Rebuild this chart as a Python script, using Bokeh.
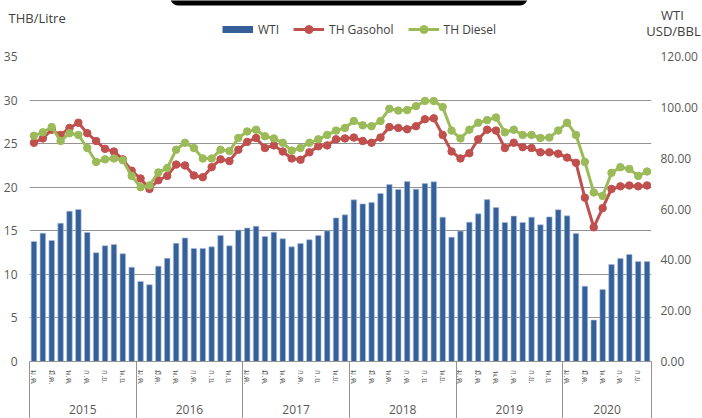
import numpy as np
from bokeh.plotting import figure
from bokeh.layouts import column
from bokeh.models import (Range1d, LinearAxis, FixedTicker, Legend, LegendItem,
                          Label, NumeralTickFormatter, BoxAnnotation)
from bokeh.embed import file_html
from bokeh.resources import INLINE

# ---------------- data ----------------
years = ["2015", "2016", "2017", "2018", "2019", "2020"]
month_names = ["ม.ค.", "ก.พ.", "มี.ค.", "เม.ย.", "พ.ค.", "มิ.ย.",
               "ก.ค.", "ส.ค.", "ก.ย.", "ต.ค.", "พ.ย.", "ธ.ค."]

wti = [47.2, 50.5, 47.6, 54.4, 59.1, 59.8, 50.8, 42.8, 45.5, 46.0, 42.4, 37.1,
       31.5, 30.2, 37.5, 40.6, 46.5, 48.6, 44.5, 44.5, 45.1, 49.6, 45.5, 51.7,
       52.5, 53.2, 49.2, 50.9, 48.3, 45.1, 46.4, 47.9, 49.6, 51.4, 56.5, 57.7,
       63.6, 62.0, 62.6, 66.1, 69.6, 67.7, 70.8, 67.8, 70.0, 70.7, 56.8, 48.9,
       51.3, 54.8, 58.1, 63.7, 60.6, 54.7, 57.2, 54.7, 56.8, 53.8, 56.9, 59.7,
       57.3, 50.4, 29.6, 16.3, 28.3, 38.2, 40.5, 42.1, 39.3, 39.3]

gasohol = [25.1, 25.6, 26.6, 26.0, 26.8, 27.4, 26.2, 25.3, 24.4, 24.1, 23.2, 21.9,
           21.0, 19.8, 20.8, 21.3, 22.6, 22.5, 21.35, 21.15, 22.3, 23.2, 23.0, 24.3,
           25.2, 25.65, 24.5, 24.8, 24.1, 23.3, 23.15, 24.0, 24.7, 24.8, 25.5, 25.6,
           25.7, 25.3, 25.1, 25.7, 26.9, 26.8, 26.65, 27.0, 27.8, 27.9, 26.0, 24.1,
           23.3, 23.9, 25.5, 26.6, 26.5, 24.5, 25.1, 24.6, 24.5, 24.0, 24.0, 23.85,
           23.4, 22.8, 18.8, 15.4, 17.6, 19.8, 20.1, 20.2, 20.1, 20.2]

diesel = [25.9, 26.3, 26.9, 25.3, 26.2, 26.0, 24.5, 22.9, 23.2, 23.3, 23.1, 21.3,
          20.0, 20.2, 21.7, 22.2, 24.3, 25.1, 24.5, 23.3, 23.3, 24.3, 24.15, 25.65,
          26.4, 26.6, 25.85, 25.6, 25.1, 24.2, 24.5, 25.1, 25.5, 26.0, 26.5, 26.8,
          27.6, 27.1, 27.0, 27.6, 29.0, 28.8, 28.85, 29.3, 29.9, 29.9, 29.2, 26.5,
          25.6, 26.6, 27.4, 27.7, 28.0, 26.3, 26.6, 26.0, 26.0, 25.65, 25.7, 26.5,
          27.4, 26.0, 22.9, 19.4, 19.0, 21.65, 22.3, 22.1, 21.3, 21.8]

left_ticks = [0, 5, 10, 15, 20, 25, 30, 35]
right_ticks = [0, 20, 40, 60, 80, 100, 120]

# ---------------- derived ----------------
n = len(wti)
x = np.arange(n)
month_labels = [month_names[i % 12] for i in range(n)]
year_idx = [i // 12 for i in range(n)]
bounds = [-0.5] + [i - 0.5 for i in range(1, n) if year_idx[i] != year_idx[i - 1]] + [n - 0.5]
centers = [(bounds[k] + bounds[k + 1]) / 2 for k in range(len(bounds) - 1)]

FONT = "Open Sans"
TXT = "#595959"
DARK = "#404040"
GRID = "#939393"
BAR = "#36609a"
RED = "#c0504d"
GREEN = "#9bbb59"

W = 702
HEAD_H = 46
MAIN_H = 372
SEP = 57  # year separator length below the x axis line

# ---------------- header (units, legend) ----------------
head = figure(width=W, height=HEAD_H, output_backend="svg", toolbar_location=None,
              x_range=Range1d(-0.5, n - 0.5), y_range=Range1d(100, 200),
              x_axis_type=None, y_axis_type=None,
              min_border_left=0, min_border_right=0, min_border_top=0, min_border_bottom=0)
head.frame_align = False
head.outline_line_color = None
head.xgrid.visible = False
head.ygrid.visible = False

head.add_layout(BoxAnnotation(left=170, right=527, top=HEAD_H + 10, bottom=HEAD_H - 5,
                              left_units="screen", right_units="screen",
                              top_units="screen", bottom_units="screen",
                              border_radius=8,
                              fill_color="black", fill_alpha=1, line_color=None))

# legend proxies (hidden; the series are drawn in the main chart)
p_wti = head.line(x, wti, line_color=BAR, line_width=7, visible=False)
p_g1 = head.line(x, gasohol, line_color=RED, line_width=3, visible=False)
p_g2 = head.scatter(x, gasohol, size=7.5, fill_color=RED, line_color=RED, visible=False)
p_d1 = head.line(x, diesel, line_color=GREEN, line_width=3, visible=False)
p_d2 = head.scatter(x, diesel, size=7.5, fill_color=GREEN, line_color=GREEN, visible=False)

legend = Legend(items=[LegendItem(label="WTI", renderers=[p_wti]),
                       LegendItem(label="TH Gasohol", renderers=[p_g1, p_g2]),
                       LegendItem(label="TH Diesel", renderers=[p_d1, p_d2])],
                orientation="horizontal", location=(222, 7),
                glyph_width=31, glyph_height=20, label_standoff=5, spacing=14,
                padding=0, margin=0, border_line_color=None, background_fill_alpha=0,
                inactive_fill_alpha=0,
                label_text_font=FONT, label_text_font_size="12px",
                label_text_color=DARK)
head.add_layout(legend)

head.add_layout(Label(x=8, y=HEAD_H - 17, x_units="screen", y_units="screen", text="THB/Litre",
                      text_font=FONT, text_font_size="13px", text_color=DARK,
                      text_baseline="middle", text_align="left"))
head.add_layout(Label(x=672, y=HEAD_H - 14, x_units="screen", y_units="screen", text="WTI",
                      text_font=FONT, text_font_size="13px", text_color=DARK,
                      text_baseline="middle", text_align="center"))
head.add_layout(Label(x=673, y=HEAD_H - 30, x_units="screen", y_units="screen", text="USD/BBL",
                      text_font=FONT, text_font_size="13px", text_color=DARK,
                      text_baseline="middle", text_align="center"))

# ---------------- main chart ----------------
p = figure(width=W, height=MAIN_H, output_backend="svg", toolbar_location=None,
           x_range=Range1d(-0.5, n - 0.5), y_range=Range1d(0, 35),
           x_axis_type=None,
           min_border_left=28, min_border_right=51, min_border_top=10, min_border_bottom=SEP)
p.frame_align = False
p.outline_line_color = None
p.background_fill_color = "white"
p.border_fill_color = "white"
p.extra_y_ranges = {"wti": Range1d(0, 120)}

lt = FixedTicker(ticks=left_ticks)
ya = p.yaxis[0]
ya.ticker = lt
ya.axis_line_color = None
ya.major_tick_line_color = None
ya.minor_tick_line_color = None
ya.major_tick_out = 0
ya.minor_tick_out = 0
ya.major_label_text_font = FONT
ya.major_label_text_font_size = "12px"
ya.major_label_text_color = TXT
ya.major_label_standoff = 12
p.ygrid[0].ticker = lt
p.ygrid[0].grid_line_color = GRID
p.ygrid[0].grid_line_width = 1.2

ra = LinearAxis(y_range_name="wti", ticker=FixedTicker(ticks=right_ticks),
                formatter=NumeralTickFormatter(format="0.00"))
ra.axis_line_color = None
ra.major_tick_line_color = None
ra.minor_tick_line_color = None
ra.major_tick_out = 0
ra.minor_tick_out = 0
ra.major_label_text_font = FONT
ra.major_label_text_font_size = "12px"
ra.major_label_text_color = TXT
ra.major_label_standoff = 9
p.add_layout(ra, "right")

month_ticks = list(range(0, n, 2))
xa = LinearAxis(ticker=FixedTicker(ticks=month_ticks, minor_ticks=bounds),
                major_label_overrides={i: month_labels[i] for i in month_ticks})
xa.major_label_orientation = "vertical"
xa.axis_line_color = GRID
xa.axis_line_width = 1.2
xa.major_tick_line_color = None
xa.major_tick_out = 0
xa.major_tick_in = 0
xa.minor_tick_line_color = GRID
xa.minor_tick_line_width = 1
xa.minor_tick_in = 0
xa.minor_tick_out = SEP
xa.major_label_text_font = "Noto Sans"
xa.major_label_text_font_size = "7.5px"
xa.major_label_text_color = TXT
xa.major_label_standoff = 9 - SEP
p.add_layout(xa, "below")

yr = LinearAxis(ticker=FixedTicker(ticks=centers),
                major_label_overrides={c: years[k] for k, c in enumerate(centers)})
yr.axis_line_color = None
yr.major_tick_line_color = None
yr.minor_tick_line_color = None
yr.major_tick_out = 0
yr.major_tick_in = 0
yr.minor_tick_out = 0
yr.minor_tick_in = 0
yr.major_label_text_font = FONT
yr.major_label_text_font_size = "12px"
yr.major_label_text_color = TXT
yr.major_label_standoff = 17
p.add_layout(yr, "below")

p.vbar(x=x, top=wti, bottom=0, width=0.62, y_range_name="wti",
       fill_color=BAR, line_color="#a9bedc", line_width=0.6)
p.line(x, gasohol, line_color=RED, line_width=3)
p.scatter(x, gasohol, size=7.5, fill_color=RED, line_color=RED, line_width=1)
p.line(x, diesel, line_color=GREEN, line_width=3)
p.scatter(x, diesel, size=7.5, fill_color=GREEN, line_color=GREEN, line_width=1)

layout = column(head, p, spacing=0)
open("out.html", "w").write(file_html(layout, INLINE))
